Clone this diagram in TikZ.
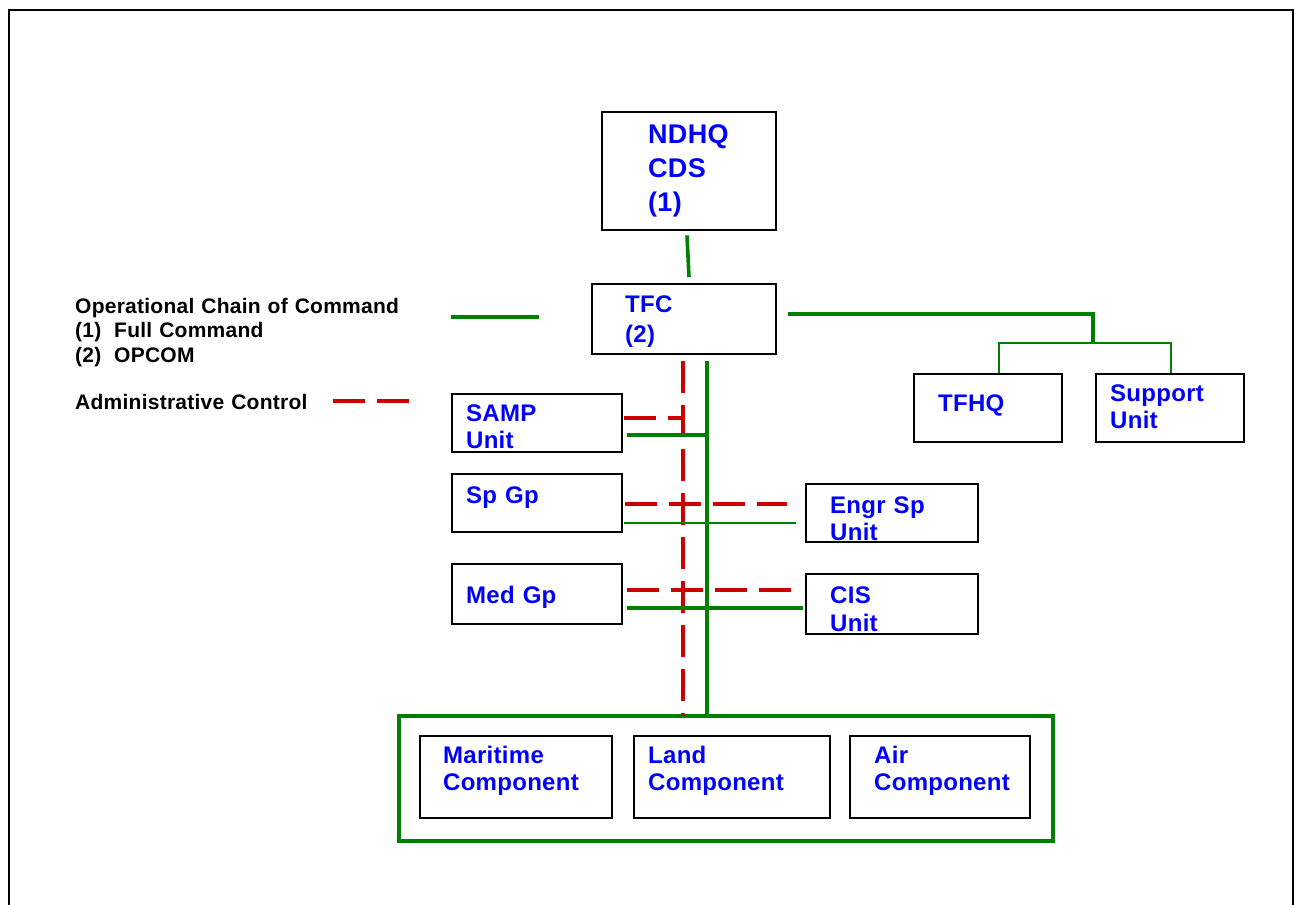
\documentclass[tikz,border=0pt]{standalone}
\usepackage{fontspec}
\setmainfont{Liberation Sans}[LetterSpace=1.2]
\usetikzlibrary{calc}
\definecolor{tblue}{RGB}{0,0,255}
\definecolor{tgreen}{RGB}{0,128,0}
\definecolor{tred}{RGB}{204,0,0}
\begin{document}
\begin{tikzpicture}[x=1pt,y=-1pt,
  box/.style={draw=black,line width=2.4pt,rectangle,inner sep=0pt,anchor=north west},
  lbl/.style={anchor=base west,inner sep=0pt,text width=220pt,align=left,text=tblue,
    font=\bfseries\fontsize{24}{28}\selectfont},
  legend/.style={anchor=base west,inner sep=0pt,text width=360pt,align=left,text=black,
    font=\bfseries\fontsize{21}{24.5}\selectfont},
  gthick/.style={draw=tgreen,line width=4pt},
  gthin/.style={draw=tgreen,line width=2pt},
  rdash/.style={draw=tred,line width=3.8pt,dash pattern=on 32pt off 12pt}]
\useasboundingbox (0,0) rectangle (1296,905);
% page frame, open at the bottom
\draw[line width=1.6pt] (9,905) |- (1293,10) -- (1293,905);

% boxes
\node[box,minimum width=174pt,minimum height=118pt] (ndhq) at (601,111) {};
\node[box,minimum width=184pt,minimum height=70pt] (tfc) at (591,283) {};
\node[box,minimum width=148pt,minimum height=68pt] (tfhq) at (913,373) {};
\node[box,minimum width=148pt,minimum height=68pt] (support) at (1095,373) {};
\node[box,minimum width=170pt,minimum height=58pt] (samp) at (451,393) {};
\node[box,minimum width=170pt,minimum height=58pt] (spgp) at (451,473) {};
\node[box,minimum width=172pt,minimum height=58pt] (engr) at (805,483) {};
\node[box,minimum width=170pt,minimum height=60pt] (medgp) at (451,563) {};
\node[box,minimum width=172pt,minimum height=60pt] (cis) at (805,573) {};
\node[box,draw=tgreen,line width=3.6pt,minimum width=654pt,minimum height=125pt] (comp) at (397,714) {};
\node[box,minimum width=192pt,minimum height=82pt] (maritime) at (419,735) {};
\node[box,minimum width=196pt,minimum height=82pt] (land) at (633,735) {};
\node[box,minimum width=180pt,minimum height=82pt] (air) at (849,735) {};

% box texts
\node[lbl,font=\bfseries\fontsize{27}{34}\selectfont] (ndhqT) at (648,143) {NDHQ\\CDS\\(1)};
\node[lbl,font=\bfseries\fontsize{24}{30}\selectfont] (tfcT) at (625,312) {TFC\\(2)};
\node[lbl] (tfhqT) at (938,411) {TFHQ};
\node[lbl,font=\bfseries\fontsize{24}{27}\selectfont] (supportT) at (1110,401) {Support\\Unit};
\node[lbl,font=\bfseries\fontsize{24}{27.5}\selectfont] (sampT) at (466,421) {SAMP\\Unit};
\node[lbl] (spgpT) at (466,503) {Sp Gp};
\node[lbl,font=\bfseries\fontsize{24}{27}\selectfont] (engrT) at (830,513) {Engr Sp\\Unit};
\node[lbl] (medgpT) at (466,603) {Med Gp};
\node[lbl,font=\bfseries\fontsize{24}{28}\selectfont] (cisT) at (830,603) {CIS\\Unit};
\node[lbl,font=\bfseries\fontsize{24}{27.5}\selectfont] (maritimeT) at (443,763) {Maritime\\Component};
\node[lbl,font=\bfseries\fontsize{24}{27.5}\selectfont] (landT) at (648,763) {Land\\Component};
\node[lbl,font=\bfseries\fontsize{24}{27.5}\selectfont] (airT) at (874,763) {Air\\Component};

% legend
\node[legend] (legOp) at (75,313) {Operational Chain of Command\\
  \makebox[39pt][l]{(1)}Full Command\\
  \makebox[39pt][l]{(2)}OPCOM};
\node[legend] (legAdm) at (75,409) {Administrative Control};
\coordinate (lgA) at (451,317);
\coordinate (lgB) at (539,317);
\coordinate (lrA) at (333,401);
\coordinate (lrB) at (409,401);
\draw[gthick] (lgA) -- (lgB);
\draw[rdash] (lrA) -- (lrB);

% NDHQ to TFC
\draw[gthick,line width=3.6pt] ($(ndhq.south west)+(86,4)$) -- ($(tfc.north west)+(98,-6)$);

% TFC to TFHQ and Support Unit
\coordinate (bus) at (1093,343);
\draw[gthick] ($(tfc.east)+(11,-5)$) -| (bus);
\draw[gthin] ($(tfhq.north west)+(86,0)$) |- (bus) -| ($(support.north west)+(76,0)$);

% trunk lines from TFC down to the components
\coordinate (rtop) at ($(tfc.south west)+(92,6)$);
\coordinate (gtop) at ($(tfc.south west)+(116,6)$);
\draw[rdash,line width=3.4pt] (rtop) -- ($(comp.north west)+(286,2)$);
\draw[gthick] (gtop) -- ($(comp.north west)+(310,4)$);

% SAMP Unit
\draw[rdash] ($(samp.east)+(1,-5)$) coordinate (sr) -- (sr -| rtop);
\draw[gthick] ($(samp.east)+(4,12)$) coordinate (sg) -- (sg -| gtop);

% Sp Gp to Engr Sp Unit
\draw[rdash] ($(spgp.east)+(2,1)$) -- ($(engr.west)+(-18,-9)$);
\draw[gthin] ($(spgp.east)+(1,20)$) -- ($(engr.west)+(-9,10)$);

% Med Gp to CIS Unit
\draw[rdash] ($(medgp.east)+(4,-4)$) -- ($(cis.west)+(-2,-14)$);
\draw[gthick] ($(medgp.east)+(4,14)$) -- ($(cis.west)+(-2,4)$);
\end{tikzpicture}
\end{document}
